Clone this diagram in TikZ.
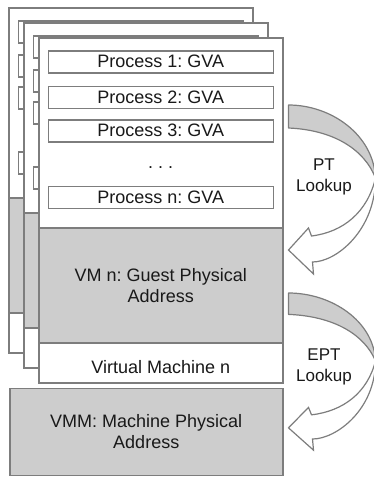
\documentclass[tikz,border=0pt]{standalone}
\usepackage{fontspec}
\setmainfont{Liberation Sans}
\frenchspacing
\usetikzlibrary{positioning,calc}

\definecolor{framegray}{RGB}{125,125,125}
\definecolor{fillgray}{RGB}{205,205,205}
\definecolor{inkgray}{RGB}{25,25,25}

\tikzset{
    card/.style={draw=framegray, line width=1.5pt, fill=white, anchor=north west,
        minimum width=244pt, minimum height=345pt, inner sep=0pt},
    procbox/.style={draw=framegray, line width=1.5pt, fill=white,
        minimum width=225pt, minimum height=22pt, inner sep=0pt},
    gpabox/.style={draw=framegray, line width=1.5pt, fill=fillgray, align=center,
        minimum width=244pt, minimum height=115pt, inner sep=0pt},
    lookup/.style={align=center, inner sep=0pt, font=\fontsize{17}{21}\selectfont},
    lookuparrow/.pic={
        % back half of the band
        \filldraw[fill=fillgray, draw=framegray, line width=1.2pt, line join=round]
            (0,0) .. controls (43,0) and (85,30) .. (87,73)
            .. controls (76,45) and (46,25) .. (0,23) -- cycle;
        % front half with the head
        \filldraw[fill=white, draw=framegray, line width=1.2pt, line join=miter]
            (87,73) .. controls (87,125) and (48,157) .. (24,157)
            -- (25,169) -- (0,145) -- (20,123) -- (23,131)
            .. controls (55,127) and (79,107) .. (87,73) -- cycle;
    }
}

\begin{document}
\begin{tikzpicture}[x=1pt, y=-1pt, text=inkgray, font=\fontsize{18}{21}\selectfont]
    \useasboundingbox (0,0) rectangle (374,480);

    % cards of the other virtual machines, behind
    \foreach \k in {0,1} {
        \node[card] (card\k) at (8+15*\k, 7+15*\k) {};
        \foreach \t in {13pt,47pt,79pt,144pt}
            \node[procbox, below=\t of card\k.north] {};
        \node[gpabox, below=190pt of card\k.north] (gpa\k) {};
    }

    % front card: virtual machine n
    \node[card] (card2) at (38,37) {};
    \node[procbox, below=13pt of card2.north] (gva1) {Process 1: GVA};
    \node[procbox, below=12pt of gva1] (gva2) {Process 2: GVA};
    \node[procbox, below=10pt of gva2] (gva3) {Process 3: GVA};
    \node[inner sep=0pt, below=24pt of gva3] (gvadots) {. . .};
    \node[procbox, below=43pt of gva3] (gvan) {Process n: GVA};
    \node[gpabox, below=190pt of card2.north] (gpa2) {VM n: Guest Physical\\Address};
    \node[inner sep=0pt, above=10pt of card2.south] (vmname) {Virtual Machine n};

    % host
    \node[gpabox, minimum width=273pt, minimum height=87pt,
        below=4pt of card2.south east, anchor=north east] (vmm) {VMM: Machine Physical\\Address};

    % lookups
    \coordinate (ptstart) at ($(card2.north east)+(5,68)$);
    \coordinate (eptstart) at ($(gpa2.north east)+(5,66)$);
    \pic at (ptstart) {lookuparrow};
    \pic[yscale=0.93] at (eptstart) {lookuparrow};
    \node[lookup] (ptlabel) at (324,177) {PT\\Lookup};
    \node[lookup] (eptlabel) at (324,367) {EPT\\Lookup};
\end{tikzpicture}
\end{document}
